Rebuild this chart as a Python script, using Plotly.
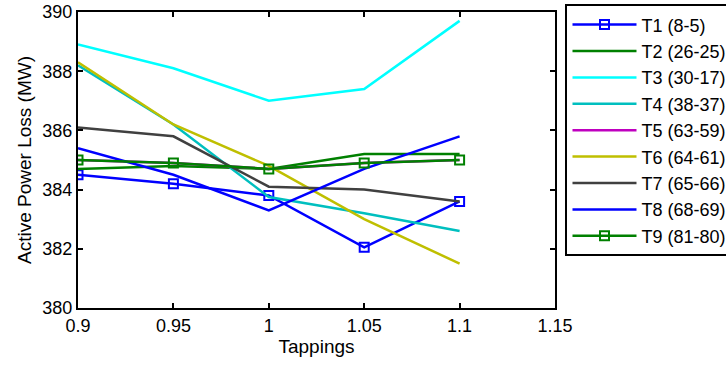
import plotly.graph_objects as go

tappings = [0.9, 0.95, 1.0, 1.05, 1.1]
names = ["T1 (8-5)", "T2 (26-25)", "T3 (30-17)", "T4 (38-37)", "T5 (63-59)",
         "T6 (64-61)", "T7 (65-66)", "T8 (68-69)", "T9 (81-80)"]
t1 = [384.5, 384.2, 383.8, 382.05, 383.6]
t2 = [384.7, 384.8, 384.7, 385.2, 385.2]
t3 = [388.9, 388.1, 387.0, 387.4, 389.7]
t4 = [388.2, 386.2, 383.75, 383.2, 382.6]
t5 = [385.0, 384.9, 384.7, 384.9, 385.0]
t6 = [388.3, 386.2, 384.8, 383.0, 381.5]
t7 = [386.1, 385.8, 384.1, 384.0, 383.6]
t8 = [385.4, 384.5, 383.3, 384.7, 385.8]
t9 = [385.0, 384.9, 384.7, 384.9, 385.0]
series = [t1, t2, t3, t4, t5, t6, t7, t8, t9]
colors = ["#0000FF", "#008000", "#00FFFF", "#00BFBF", "#BF00BF",
          "#BFBF00", "#404040", "#0000FF", "#008000"]
markers = [True, False, False, False, False, False, False, False, True]

fig = go.Figure()
for i, (n, y, c, m) in enumerate(zip(names, series, colors, markers)):
    fig.add_trace(go.Scatter(
        x=tappings, y=y, name=n, legendgroup=f"g{i}",
        mode="lines+markers" if m else "lines",
        line=dict(color=c, width=2.5),
        marker=dict(symbol="square-open", size=9, color=c, line=dict(width=2, color=c)),
    ))

fig.update_layout(
    width=726, height=365,
    margin=dict(l=78, r=171, t=12, b=57, autoexpand=False),
    paper_bgcolor="white", plot_bgcolor="white",
    font=dict(family="Liberation Sans, Arial, sans-serif", size=16, color="black"),
    showlegend=True,
    legend=dict(x=1.022, y=0.988, xanchor="left", yanchor="top", yref="container",
                maxheight=1,
                bordercolor="black", borderwidth=2, bgcolor="white",
                font=dict(size=18), itemwidth=64, tracegroupgap=9,
                traceorder="normal"),
)
fig.update_xaxes(range=[0.9, 1.15], tickvals=[0.9, 0.95, 1, 1.05, 1.1, 1.15],
                 ticktext=["0.9", "0.95", "1", "1.05", "1.1", "1.15"],
                 ticks="inside", ticklen=5, tickwidth=2, tickcolor="black",
                 showline=True, linewidth=2, linecolor="black", mirror="ticks",
                 showgrid=False, zeroline=False,
                 title=dict(text="Tappings", standoff=4), tickfont=dict(size=18))
fig.update_yaxes(range=[380, 390], tickvals=[380, 382, 384, 386, 388, 390],
                 ticks="inside", ticklen=5, tickwidth=2, tickcolor="black",
                 showline=True, linewidth=2, linecolor="black", mirror="ticks",
                 showgrid=False, zeroline=False,
                 title=dict(text="Active Power Loss (MW)", standoff=6), tickfont=dict(size=18))

fig.write_html("out.html")
